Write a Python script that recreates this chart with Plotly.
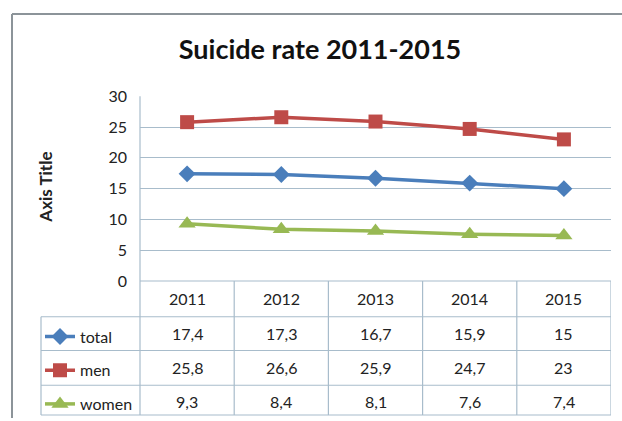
import plotly.graph_objects as go

years = ["2011", "2012", "2013", "2014", "2015"]
total = [17.4, 17.3, 16.7, 15.9, 15]
men = [25.8, 26.6, 25.9, 24.7, 23]
women = [9.3, 8.4, 8.1, 7.6, 7.4]
series_names = ["total", "men", "women"]
y_ticks = [0, 5, 10, 15, 20, 25, 30]

W, H = 622, 421
FONT = "Lato"
GRID = "#a8bccb"
TXT = "#222222"

def px(x):
    return x / W

def py(y):
    return (H - y) / H

colors = ["#4a7ebb", "#be4b48", "#98b954"]
symbols = ["diamond", "square", "triangle-up"]
sizes = [13, 14, 15]
data = [total, men, women]

fig = go.Figure()
legend_names = ["legend", "legend2", "legend3"]
for i, (name, vals) in enumerate(zip(series_names, data)):
    fig.add_trace(go.Scatter(
        x=years, y=vals, name=name, mode="lines+markers",
        line=dict(color=colors[i], width=3.5),
        marker=dict(symbol=symbols[i], size=sizes[i], color=colors[i]),
        legend=legend_names[i], cliponaxis=False,
    ))

row_centers = [336, 370, 404]
layout_legends = {}
for i, ln in enumerate(legend_names):
    layout_legends[ln] = dict(
        x=px(40), y=py(row_centers[i] + 3), xanchor="left", yanchor="middle",
        bgcolor="rgba(0,0,0,0)", borderwidth=0,
        font=dict(family=FONT, size=16, color=TXT),
        itemwidth=30, tracegroupgap=0,
    )

plot_left, plot_right, plot_top, plot_bottom = 140, 611, 97, 283

fig.update_layout(
    template="none",
    width=W, height=H, margin=dict(l=0, r=0, t=0, b=0, pad=0),
    paper_bgcolor="white", plot_bgcolor="white",
    showlegend=True,
    title=dict(text="<b>Suicide rate 2011-2015</b>", x=px(320), xanchor="center",
               y=py(50), yanchor="middle",
               font=dict(family=FONT, size=27, color="#111111")),
    xaxis=dict(domain=[px(plot_left), px(plot_right)], type="category",
               range=[-0.5, 4.5], showticklabels=False, showgrid=False,
               zeroline=False, fixedrange=True, automargin=False, showline=False),
    yaxis=dict(domain=[py(plot_bottom), py(plot_top)], range=[0, 30],
               tickvals=y_ticks, showgrid=True, gridcolor=GRID, gridwidth=1.2,
               zeroline=False, ticks="", ticklabelstandoff=12, automargin=False,
               showline=False,
               tickfont=dict(family=FONT, size=16, color=TXT)),
    **layout_legends,
)

shapes = []
line = dict(color=GRID, width=1.2)
# outer frame
shapes.append(dict(type="line", xref="paper", yref="paper", x0=px(12), x1=px(12),
                   y0=py(14), y1=0, line=dict(color="#8c9499", width=2)))
shapes.append(dict(type="line", xref="paper", yref="paper", x0=px(12), x1=1,
                   y0=py(14), y1=py(14), line=dict(color="#8c9499", width=2)))
# plot left border
shapes.append(dict(type="line", xref="paper", yref="paper", x0=px(plot_left), x1=px(plot_left),
                   y0=py(plot_top), y1=py(418), line=line))
# table vertical lines
for k in range(1, 6):
    shapes.append(dict(type="line", xref="x", yref="paper", x0=k - 0.5, x1=k - 0.5,
                       y0=py(plot_bottom), y1=py(418), line=line))
shapes.append(dict(type="line", xref="paper", yref="paper", x0=px(41), x1=px(41),
                   y0=py(319), y1=py(418), line=line))
# table horizontal lines
shapes.append(dict(type="line", xref="paper", yref="paper", x0=px(plot_left), x1=px(plot_right),
                   y0=py(plot_bottom), y1=py(plot_bottom), line=line))
for yy in [319, 353, 388, 418]:
    shapes.append(dict(type="line", xref="paper", yref="paper", x0=px(41), x1=px(plot_right),
                       y0=py(yy), y1=py(yy), line=line))
fig.update_layout(shapes=shapes)

annotations = []
annotations.append(dict(x=px(46), y=py(189), xref="paper", yref="paper",
                        xanchor="center", yanchor="middle",
                        text="<b>Axis Title</b>", textangle=-90, showarrow=False,
                        font=dict(family=FONT, size=17, color=TXT)))
for j, yr in enumerate(years):
    annotations.append(dict(x=j, y=py(301), xref="x", yref="paper", text=yr,
                            xanchor="center", yanchor="middle",
                            showarrow=False, font=dict(family=FONT, size=16, color=TXT)))
for r, vals in enumerate(data):
    for j, v in enumerate(vals):
        annotations.append(dict(x=j, y=py(row_centers[r]), xref="x", yref="paper",
                                xanchor="center", yanchor="middle",
                                text=f"{v:g}".replace(".", ","), showarrow=False,
                                font=dict(family=FONT, size=16, color=TXT)))
fig.update_layout(annotations=annotations)

fig.write_html("out.html", config={"displayModeBar": False},
               post_script="document.body.style.margin='0';")
